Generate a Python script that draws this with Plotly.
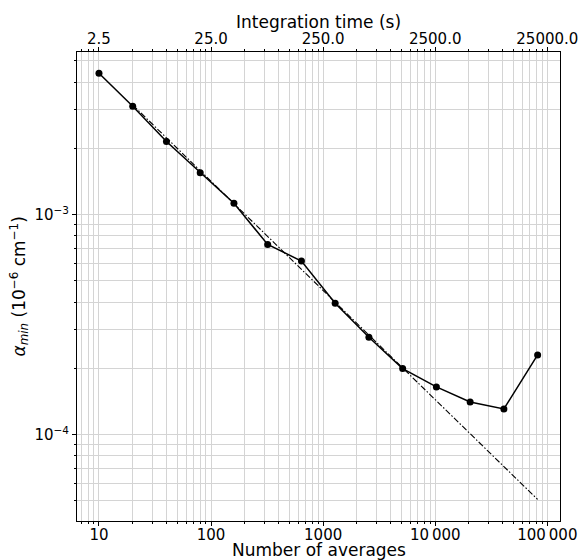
import plotly.graph_objects as go

# ---- data ----
n_averages = [10, 20, 40, 80, 160, 320, 640, 1280, 2560, 5120, 10240, 20480, 40960, 81920]
alpha_min = [4.39e-3, 3.11e-3, 2.15e-3, 1.55e-3, 1.125e-3, 7.31e-4, 6.15e-4,
             3.95e-4, 2.77e-4, 1.995e-4, 1.646e-4, 1.406e-4, 1.307e-4, 2.30e-4]
fit_n = [20, 81920]
fit_alpha = [3.15e-3, 5.07e-5]

x_tickvals = [10, 100, 1000, 10000, 100000]
x_ticktext = ["10", "100", "1000", "10\u2009000", "100\u2009000"]
top_ticktext = ["2.5", "25.0", "250.0", "2500.0", "25000.0"]
y_tickvals = [1e-4, 1e-3]
y_ticktext = ["10<sup>\u22124</sup>", "10<sup>\u22123</sup>"]

x_minor = [m * 10 ** e for e in range(0, 6) for m in range(2, 10)]
y_minor = [m * 10 ** e for e in range(-6, -1) for m in range(2, 10)]

FONT = "DejaVu Sans"
GRID = "#d4d4d4"
X_RANGE = [0.804, 5.113]
Y_RANGE = [-4.393, -2.261]

fig = go.Figure()
fig.add_trace(go.Scatter(
    x=fit_n, y=fit_alpha, mode="lines",
    line=dict(color="black", width=1.1, dash="6px,2px,1.5px,2px"),
    showlegend=False, hoverinfo="skip"))
fig.add_trace(go.Scatter(
    x=n_averages, y=alpha_min, mode="lines+markers",
    line=dict(color="black", width=1.5),
    marker=dict(color="black", size=7),
    showlegend=False))
# helper trace for the top (integration time) axis
fig.add_trace(go.Scatter(
    x=n_averages, y=alpha_min, xaxis="x2", mode="markers",
    marker=dict(opacity=0), showlegend=False, hoverinfo="skip"))

fig.update_layout(
    width=581, height=560,
    margin=dict(l=77, r=21, t=52, b=39),
    paper_bgcolor="white", plot_bgcolor="white",
    font=dict(family=FONT, size=15, color="black"),
    xaxis=dict(
        type="log", range=X_RANGE, automargin=False,
        tickmode="array", tickvals=x_tickvals, ticktext=x_ticktext,
        ticks="outside", ticklen=4, tickwidth=1, tickcolor="black",
        ticklabelstandoff=-4,
        showgrid=True, gridcolor=GRID, gridwidth=1,
        minor=dict(tickmode="array", tickvals=x_minor, ticks="outside",
                   ticklen=2, tickcolor="black", showgrid=True,
                   gridcolor=GRID, gridwidth=1),
        showline=True, linecolor="black", linewidth=1, mirror=True,
        zeroline=False,
        tickfont=dict(size=15),
    ),
    xaxis2=dict(
        type="log", range=X_RANGE, overlaying="x", side="top", anchor="y",
        automargin=False,
        tickmode="array", tickvals=x_tickvals, ticktext=top_ticktext,
        ticks="outside", ticklen=4, tickwidth=1, tickcolor="black",
        ticklabelstandoff=-3,
        showgrid=False,
        minor=dict(tickmode="array", tickvals=x_minor, ticks="outside",
                   ticklen=2, tickcolor="black", showgrid=False),
        showline=False, zeroline=False,
        tickfont=dict(size=15),
    ),
    yaxis=dict(
        type="log", range=Y_RANGE, automargin=False,
        tickmode="array", tickvals=y_tickvals, ticktext=y_ticktext,
        ticks="outside", ticklen=4, tickwidth=1, tickcolor="black",
        showgrid=True, gridcolor=GRID, gridwidth=1,
        minor=dict(tickmode="array", tickvals=y_minor, ticks="outside",
                   ticklen=2, tickcolor="black", showgrid=True,
                   gridcolor=GRID, gridwidth=1),
        showline=True, linecolor="black", linewidth=1, mirror=True,
        zeroline=False,
        tickfont=dict(size=15),
    ),
    annotations=[
        dict(text="Number of averages", xref="paper", yref="paper",
             x=0.5, y=-0.0625, xanchor="center", yanchor="middle",
             showarrow=False, font=dict(size=17)),
        dict(text="Integration time (s)", xref="paper", yref="paper",
             x=0.5, y=1.0635, xanchor="center", yanchor="middle",
             showarrow=False, font=dict(size=17)),
        dict(text="<i>\u03b1</i><sub><i>min</i></sub> (10<sup>\u22126</sup> cm<sup>\u22121</sup>)",
             xref="paper", yref="paper", x=-0.12, y=0.5,
             xanchor="center", yanchor="middle", textangle=-90,
             showarrow=False, font=dict(size=17)),
    ],
)

fig.write_html("out.html", config={"displayModeBar": False},
               post_script="document.body.style.margin='0';document.body.style.padding='0';")
